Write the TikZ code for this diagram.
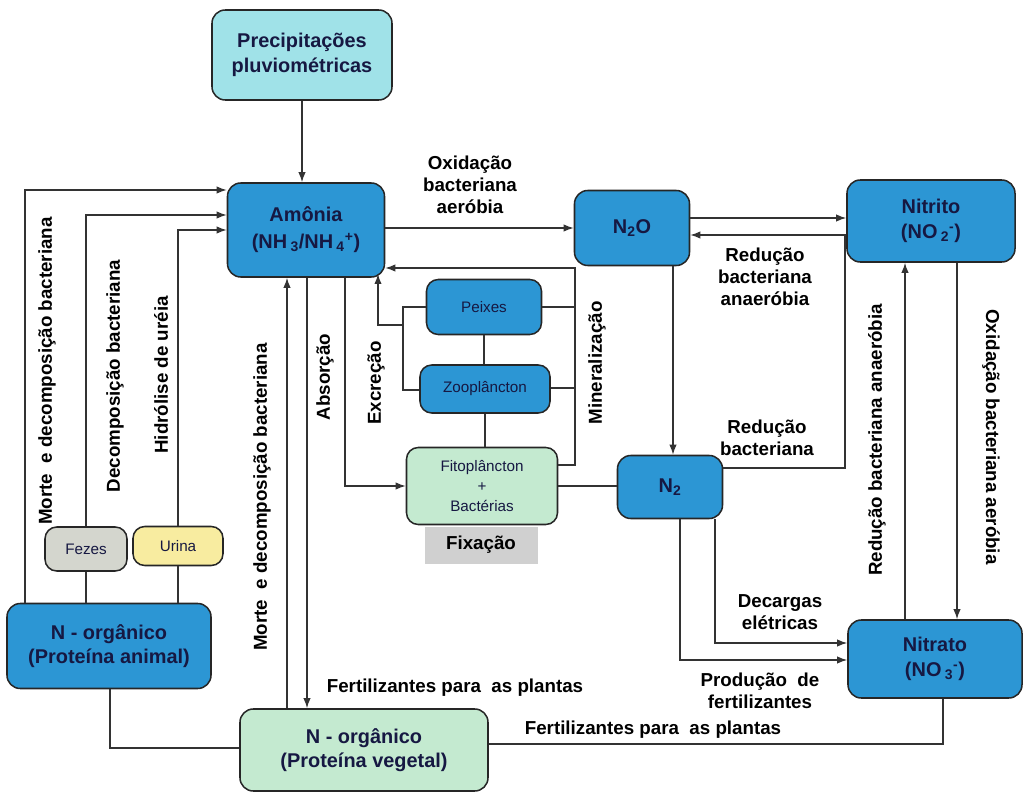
\documentclass[tikz,border=0pt]{standalone}
\usepackage{fontspec}
\setmainfont{Liberation Sans}
\usetikzlibrary{arrows.meta}

\definecolor{boxBlue}{RGB}{44,150,212}
\definecolor{rainCyan}{RGB}{160,226,232}
\definecolor{plantGreen}{RGB}{196,234,208}
\definecolor{fixGray}{RGB}{208,208,208}
\definecolor{fecesGray}{RGB}{212,214,206}
\definecolor{urineYellow}{RGB}{248,236,160}
\definecolor{textNavy}{RGB}{22,24,66}

\begin{document}
\begin{tikzpicture}[x=0.03cm, y=-0.03cm,
    box/.style={draw=black!85, line width=1.3pt, rounded corners=0.4cm, fill=boxBlue,
        text=textNavy, font=\bfseries\fontsize{17}{21}\selectfont, align=center, inner sep=0pt},
    smallbox/.style={box, rounded corners=0.35cm, font=\fontsize{13}{17}\selectfont},
    lbl/.style={font=\bfseries\fontsize{16}{19}\selectfont, align=center, inner sep=0pt},
    link/.style={draw=black!80, line width=1.1pt},
    arr/.style={link, -{Latex[length=3mm, width=2.2mm]}}]

    \useasboundingbox (0,0) rectangle (1031,796);

    % boxes
    \node[box, fill=rainCyan, minimum width=5.4cm, minimum height=2.7cm] (chuva) at (302,55) {Precipitações\\pluviométricas};
    \node[box, minimum width=4.71cm, minimum height=2.82cm] (amonia) at (306,230)
        {Amônia\\[2pt](NH\,\textsubscript{3}/NH\,\textsubscript{4}\textsuperscript{+})};
    \node[box, minimum width=3.45cm, minimum height=2.25cm] (ntwoo) at (632,228) {N\textsubscript{2}O};
    \node[box, minimum width=5.04cm, minimum height=2.46cm] (nitrito) at (931,221)
        {Nitrito\\(NO\,\textsubscript{2}\textsuperscript{-})};
    \node[box, minimum width=3.15cm, minimum height=1.89cm] (ntwo) at (670,487) {N\textsubscript{2}};
    \node[box, minimum width=5.22cm, minimum height=2.34cm] (nitrato) at (935,659)
        {Nitrato\\(NO\,\textsubscript{3}\textsuperscript{-})};
    \node[box, minimum width=6.12cm, minimum height=2.55cm] (animal) at (109,646) {N - orgânico\\(Proteína animal)};
    \node[box, fill=plantGreen, minimum width=7.44cm, minimum height=2.46cm] (vegetal) at (364,750) {N - orgânico\\(Proteína vegetal)};

    % food chain
    \node[smallbox, minimum width=3.45cm, minimum height=1.65cm] (peixes) at (484,307) {Peixes};
    \node[smallbox, minimum width=3.9cm, minimum height=1.44cm] (zoo) at (485,389) {Zooplâncton};
    \node[smallbox, fill=plantGreen, minimum width=4.53cm, minimum height=2.31cm] (fito) at (482,486) {Fitoplâncton\\+\\Bactérias};
    \node[lbl, fill=fixGray, minimum width=3.39cm, minimum height=1.11cm] (fixacao) at (481,545) {Fixação};
    \node[smallbox, fill=fecesGray, minimum width=2.46cm, minimum height=1.32cm] (fezes) at (86,549) {Fezes};
    \node[smallbox, fill=urineYellow, minimum width=2.7cm, minimum height=1.17cm] (urina) at (178,546) {Urina};

    % into ammonia
    \draw[arr] (chuva.south) -- (chuva.south |- amonia.north);
    \draw[arr] (animal.north -| 25,0) |- (amonia.west |- 0,190);
    \draw[arr] (fezes.north) |- (amonia.west |- 0,215);
    \draw[arr] (urina.north) |- (amonia.west |- 0,230);
    \draw[link] (fezes.south) -- (fezes.south |- animal.north);
    \draw[link] (urina.south) -- (urina.south |- animal.north);
    \draw[arr] (vegetal.north -| 287,0) -- (amonia.south -| 287,0);
    \draw[arr] (amonia.south -| 307,0) -- (vegetal.north -| 307,0);
    \draw[arr] (amonia.south -| 345,0) |- (fito.west);

    % excretion and mineralization
    \draw[link] (peixes.west) -- (403,307) -- (403,390) -- (zoo.west |- 0,390);
    \draw[arr] (403,325) -| (378,274);
    \draw[link] (peixes.south) -- (peixes.south |- zoo.north);
    \draw[link] (zoo.south) -- (zoo.south |- fito.north);
    \draw[link] (peixes.east) -- (peixes.east -| 575,0);
    \draw[link] (zoo.east |- 0,388) -- (575,388);
    \draw[arr] (fito.east |- 0,465) -| (575,268) -- (amonia.east |- 0,268);

    % nitrogen gases and oxides
    \draw[arr] (amonia.east |- ntwoo.west) -- (ntwoo.west);
    \draw[arr] (ntwoo.east |- 0,218) -- (nitrito.west |- 0,218);
    \draw[arr] (nitrito.west |- 0,235) -- (ntwoo.east |- 0,235);
    \draw[arr] (ntwoo.south -| 673,0) -- (ntwo.north -| 673,0);
    \draw[link] (fito.east) -- (fito.east -| ntwo.west);
    \draw[link] (ntwo.east |- 0,468) -| (845,235);
    \draw[arr] (nitrato.north -| 905,0) -- (nitrito.south -| 905,0);
    \draw[arr] (nitrito.south -| 957,0) -- (nitrato.north -| 957,0);
    \draw[arr] (ntwo.south -| 715,0) |- (nitrato.west |- 0,643);
    \draw[arr] (ntwo.south -| 680,0) |- (nitrato.west |- 0,660);

    % to plant protein
    \draw[link] (nitrato.south -| 943,0) |- (vegetal.east |- 0,744);
    \draw[link] (animal.south -| 110,0) |- (vegetal.west |- 0,748);

    % labels
    \node[lbl] (oxid) at (470,185) {Oxidação\\bacteriana\\aeróbia};
    \node[lbl] (redanae) at (765,277) {Redução\\bacteriana\\anaeróbia};
    \node[lbl] (redbac) at (767,438) {Redução\\bacteriana};
    \node[lbl] (descargas) at (780,612) {Decargas\\elétricas};
    \node[lbl] (producao) at (760,691) {Produção~ de\\fertilizantes};
    \node[lbl] (fertA) at (455,688) {Fertilizantes para~ as plantas};
    \node[lbl] (fertB) at (653,730) {Fertilizantes para~ as plantas};
    \node[lbl, rotate=90] (morteA) at (47,371) {Morte~ e decomposição bacteriana};
    \node[lbl, rotate=90] (decomp) at (115,376) {Decomposição bacteriana};
    \node[lbl, rotate=90] (hidrol) at (161,375) {Hidrólise de uréia};
    \node[lbl, rotate=90] (morteB) at (262,497) {Morte~ e decomposição bacteriana};
    \node[lbl, rotate=90] (absor) at (325,377) {Absorção};
    \node[lbl, rotate=90] (excre) at (376,383) {Excreção};
    \node[lbl, rotate=90] (miner) at (597,363) {Mineralização};
    \node[lbl, rotate=90] (redvert) at (877,440) {Redução bacteriana anaeróbia};
    \node[lbl, rotate=-90] (oxvert) at (991,437) {Oxidação bacteriana aeróbia};

\end{tikzpicture}
\end{document}
